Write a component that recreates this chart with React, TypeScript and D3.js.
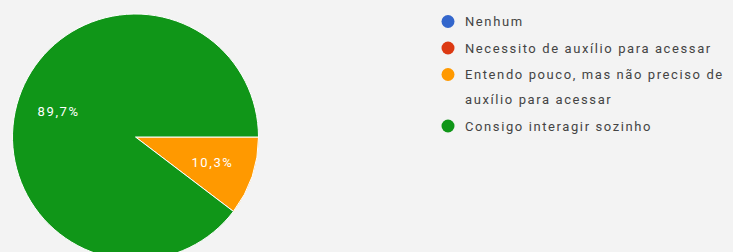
import React, { useRef, useEffect } from 'react';
import * as d3 from 'd3';

const categories = [
  'Nenhum',
  'Necessito de auxílio para acessar',
  'Entendo pouco, mas não preciso de auxílio para acessar',
  'Consigo interagir sozinho',
];
const counts = [0, 0, 3, 26];
const sliceColors = ['#3366cc', '#dc3912', '#ff9900', '#109618'];
// legend lines as wrapped in the picture
const legendLines = [
  ['Nenhum'],
  ['Necessito de auxílio para acessar'],
  ['Entendo pouco, mas não preciso de', 'auxílio para acessar'],
  ['Consigo interagir sozinho'],
];

const App: React.FC = () => {
  const svgRef = useRef<SVGSVGElement | null>(null);

  useEffect(() => {
    if (!svgRef.current) return;
    const width = 733;
    const height = 252;
    const svg = d3.select(svgRef.current);
    svg.selectAll('*').remove();
    svg.attr('width', width).attr('height', height);

    svg.append('rect')
      .attr('width', width)
      .attr('height', height)
      .attr('fill', '#f3f3f3');

    const cx = 135.5;
    const cy = 137;
    const r = 123;
    const fontFamily = 'Roboto, Arial, sans-serif';

    const total = d3.sum(counts);
    const pie = d3.pie<number>()
      .sort(null)
      .value(d => d)
      .startAngle(Math.PI / 2)
      .endAngle(Math.PI / 2 + 2 * Math.PI);
    const arcs = pie(counts);
    const arc = d3.arc<d3.PieArcDatum<number>>().innerRadius(0).outerRadius(r);
    const labelArc = d3.arc<d3.PieArcDatum<number>>().innerRadius(r * 0.66).outerRadius(r * 0.66);

    const g = svg.append('g').attr('transform', `translate(${cx},${cy})`);

    g.selectAll('path.slice')
      .data(arcs.filter(a => a.value > 0))
      .enter()
      .append('path')
      .attr('class', 'slice')
      .attr('d', arc)
      .attr('fill', d => sliceColors[d.index])
      .attr('stroke', '#ffffff')
      .attr('stroke-width', 1);

    g.selectAll('text.pct')
      .data(arcs.filter(a => a.value > 0))
      .enter()
      .append('text')
      .attr('class', 'pct')
      .attr('transform', d => `translate(${labelArc.centroid(d)})`)
      .attr('text-anchor', 'middle')
      .attr('dy', '0.35em')
      .attr('font-family', fontFamily)
      .attr('font-size', 13)
      .attr('letter-spacing', 1.6)
      .attr('fill', '#ffffff')
      .text(d => (d.value / total * 100).toFixed(1).replace('.', ',') + '%');

    // Legend
    const legend = svg.append('g').attr('transform', 'translate(448, 21.5)');
    const lineH = 25;
    let y = 0;
    categories.forEach((c, i) => {
      legend.append('circle')
        .attr('cx', 0)
        .attr('cy', y)
        .attr('r', 6.5)
        .attr('fill', sliceColors[i]);
      legendLines[i].forEach((line, k) => {
        legend.append('text')
          .attr('x', 17)
          .attr('y', y + k * lineH)
          .attr('dy', '0.35em')
          .attr('font-family', fontFamily)
          .attr('font-size', 13)
          .attr('letter-spacing', 1.6)
          .attr('fill', '#444444')
          .text(line);
      });
      y += legendLines[i].length * lineH + 1.5;
    });
  }, []);

  return (
    <div style={{ position: 'fixed', left: 0, top: 0 }}>
      <svg ref={svgRef} style={{ display: 'block' }}></svg>
    </div>
  );
};

export default App;
